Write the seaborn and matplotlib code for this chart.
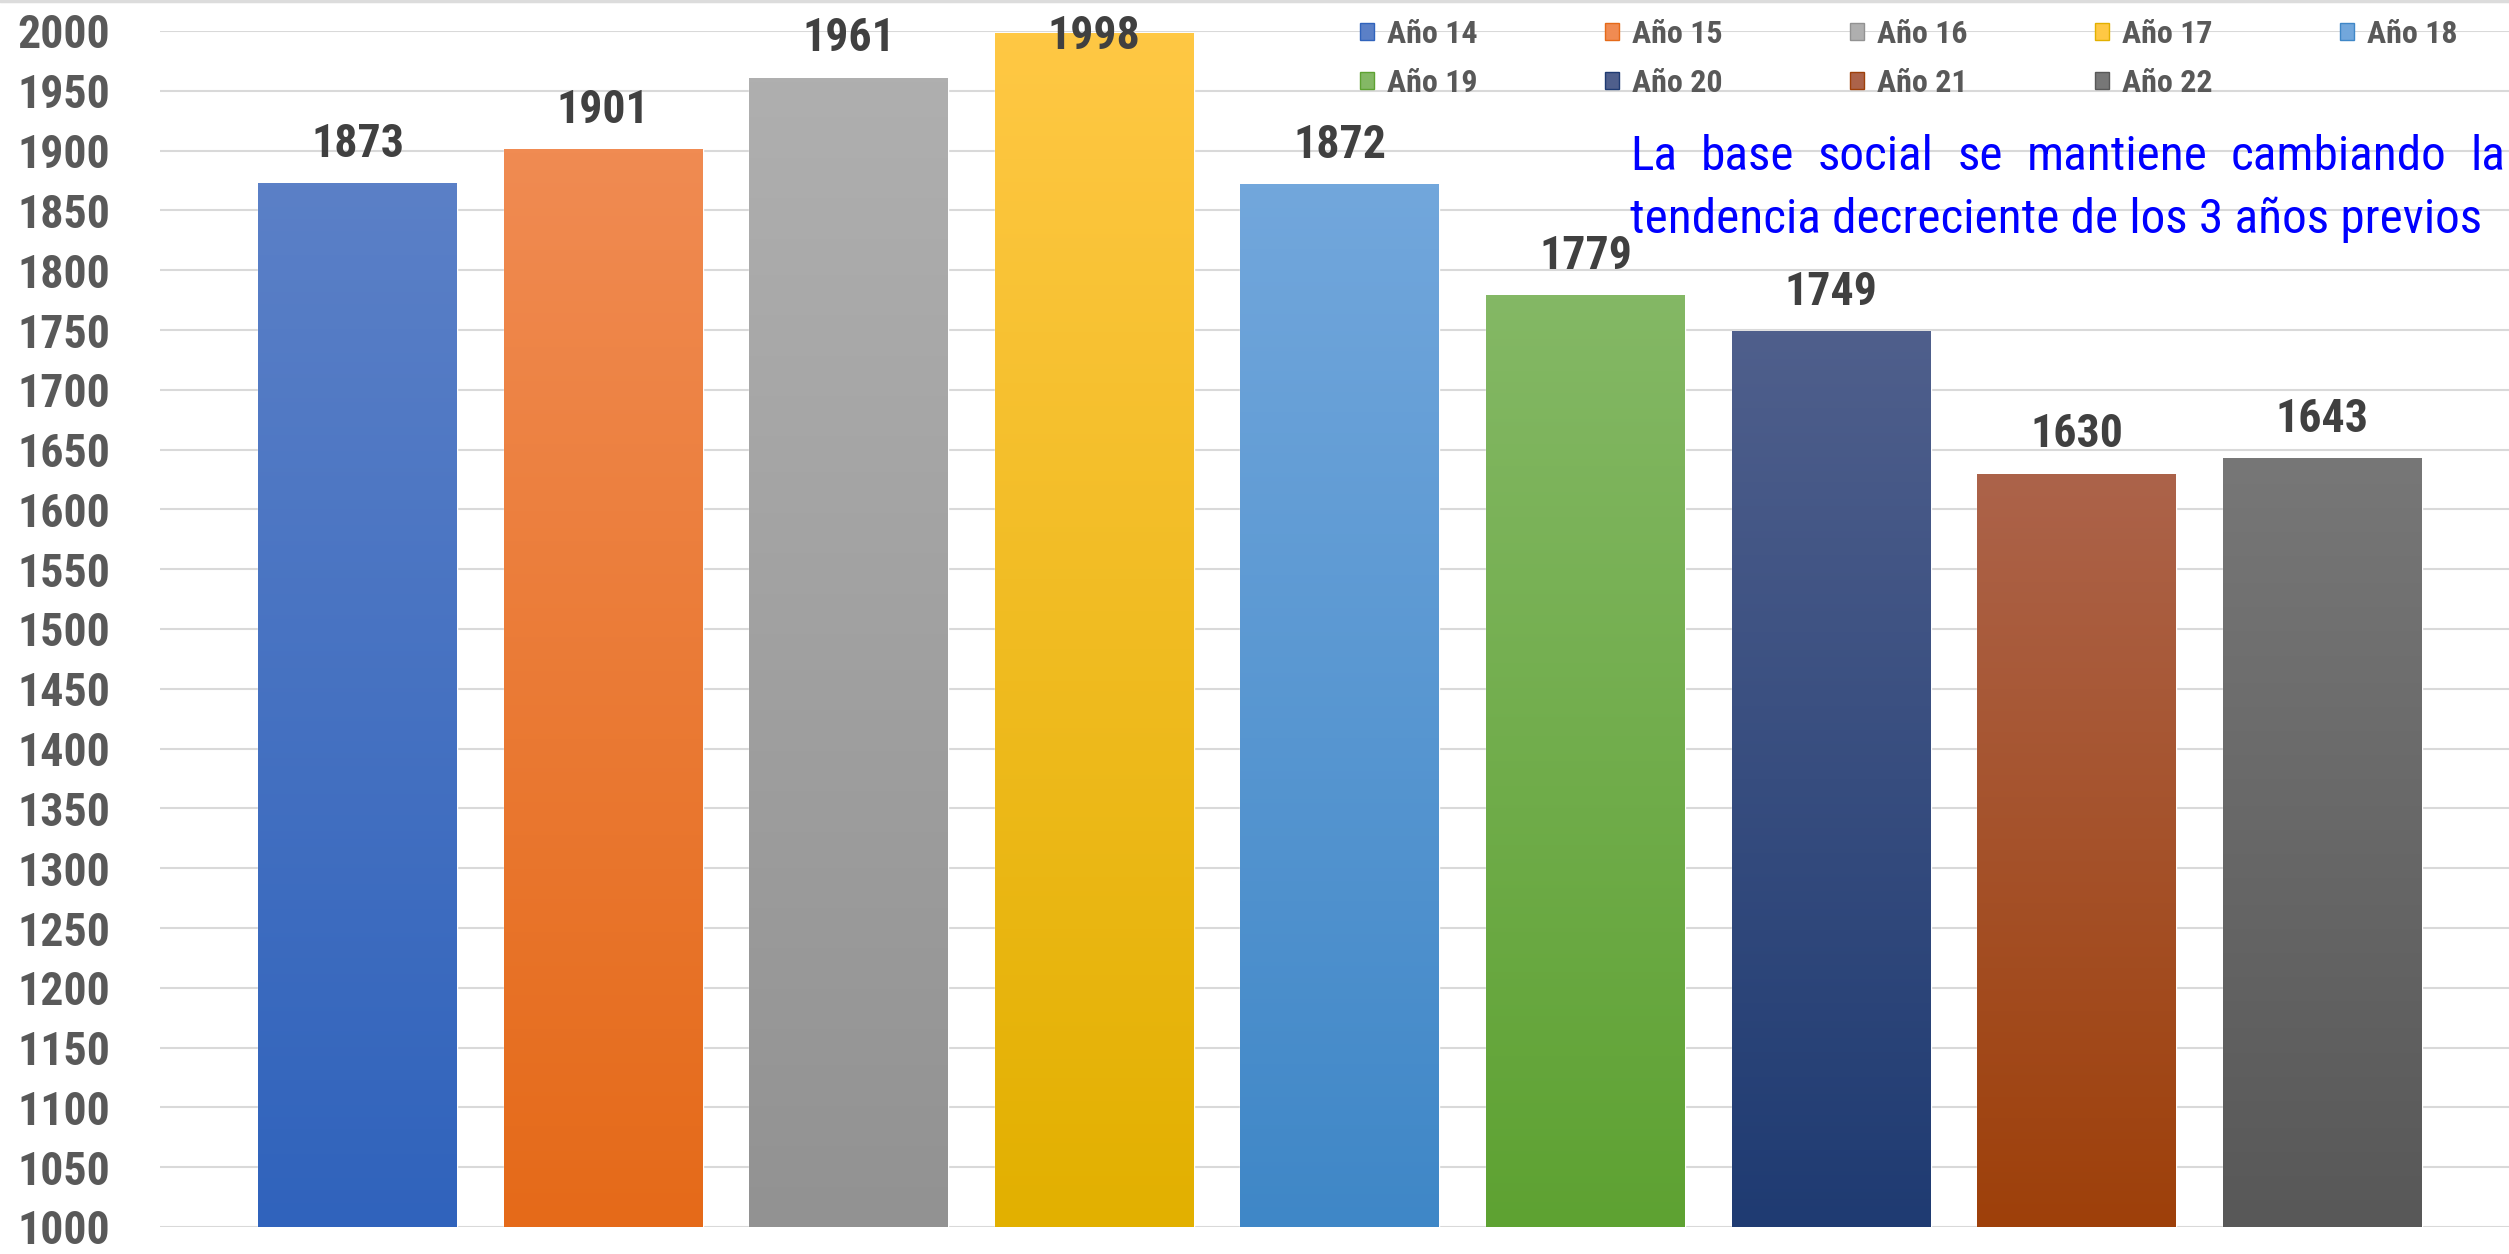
import matplotlib
matplotlib.use("Agg")
import matplotlib.pyplot as plt
import matplotlib.font_manager as fm
from matplotlib.colors import LinearSegmentedColormap
from matplotlib.patches import Patch
from matplotlib.lines import Line2D
import numpy as np
import pandas as pd
import seaborn as sns

years = ["Año 14", "Año 15", "Año 16", "Año 17", "Año 18", "Año 19", "Año 20", "Año 21", "Año 22"]
socios = [1873, 1901, 1961, 1998, 1872, 1779, 1749, 1630, 1643]
top_colors = ["#5b80c7", "#f08b52", "#afafaf", "#ffc844", "#72a7dc", "#84b865", "#4f5f8c", "#ac634a", "#777777"]
bottom_colors = ["#3063bc", "#e56a19", "#929292", "#e2b000", "#3f87c7", "#5ea232", "#1f3b72", "#9e400a", "#585858"]
note_line1 = "La base social se mantiene cambiando la"
note_line2 = "tendencia decreciente de los 3 años previos"

# look for a narrow font (Arial Narrow style)
entries = fm.fontManager.ttflist
FAM, STRETCH = "Liberation Sans", "normal"
for pref in ["Liberation Sans Narrow", "Arial Narrow", "Roboto Condensed", "Open Sans Condensed"]:
    if any(e.name == pref for e in entries):
        FAM, STRETCH = pref, "normal"
        break
else:
    for fam in ["Noto Sans", "Open Sans", "DejaVu Sans", "Roboto", "Inter", "Lato"]:
        if any(e.name == fam and e.stretch == "condensed" for e in entries):
            FAM, STRETCH = fam, "condensed"
            break

sns.set_style("white")
plt.rcParams["font.family"] = [FAM, "DejaVu Sans"]
plt.rcParams["font.stretch"] = STRETCH

df = pd.DataFrame({"year": years, "socios": socios})
mid = {y: c for y, c in zip(years, top_colors)}

W, H = 2509, 1254
fig = plt.figure(figsize=(W / 100, H / 100), dpi=100)
renderer = fig.canvas.get_renderer()


def text_w(s, size, weight="normal"):
    t = fig.text(0, 0, s, fontsize=size, fontweight=weight)
    bb = t.get_window_extent(renderer)
    t.remove()
    return bb.width


def fit(s, size, target, weight="normal", lo=0.8):
    r = target / text_w(s, size, weight)
    return size * min(1.0, max(lo, r))


tick_fs = fit("2000", 36, 93, "bold")
lab_fs = fit("1873", 36, 93, "bold")
leg_fs = fit("Año 14", 23, 99, "bold")
note_fs = fit(note_line2, 38.4, 853, "normal", lo=0.5)

ax = fig.add_axes([160 / W, 1 - 1227 / H, 1 - 160 / W, (1227 - 31) / H])

sns.barplot(data=df, x="year", y="socios", hue="year", palette=mid, dodge=False,
            width=0.81, legend=False, ax=ax, zorder=2)

ax.set_ylim(1000, 2000)
ax.set_xlim(-0.804, 8.76)
ax.set_yticks(range(1000, 2001, 50))
ax.set_xticks([])
ax.set_xlabel("")
ax.set_ylabel("")
ax.yaxis.grid(True, color="#d9d9d9", lw=1.5, zorder=0)
ax.set_axisbelow(True)
for s in ax.spines.values():
    s.set_visible(False)
ax.tick_params(axis="y", length=0, pad=36, labelsize=tick_fs, labelcolor="#595959")
for t in ax.get_yticklabels():
    t.set_fontweight("bold")

# gradient fill per bar + value labels
for i, cont in enumerate(ax.containers):
    for p in cont.patches:
        x0, w, top = p.get_x(), p.get_width(), p.get_y() + p.get_height()
        cmap = LinearSegmentedColormap.from_list("g", [bottom_colors[i], top_colors[i]])
        im = ax.imshow(np.linspace(0, 1, 256).reshape(-1, 1), cmap=cmap, aspect="auto",
                       origin="lower", extent=(x0, x0 + w, 1000, top), zorder=3)
        im.set_clip_path(p)
    pad = -18 if socios[i] > 1990 else 12.5  # no room above the tallest bar
    ax.bar_label(cont, fmt="%d", padding=pad, fontsize=lab_fs, fontweight="bold",
                 color="#404040", zorder=5)

ax.set_xlim(-0.804, 8.76)
ax.set_ylim(1000, 2000)

# legend in 5 columns, filled row by row
order = [0, 5, 1, 6, 2, 7, 3, 8, 4]
handles = [Patch(facecolor=top_colors[k], edgecolor=bottom_colors[k]) for k in order]
labels = [years[k] for k in order]
fs_px = leg_fs * 100 / 72
col_sp = (245 - 0.85 * fs_px - text_w("Año 14", leg_fs, "bold")) / fs_px
leg = fig.legend(handles, labels, ncol=5, loc="upper left",
                 bbox_to_anchor=(1360 / W, 1 - 19 / H), frameon=False,
                 prop={"family": [FAM, "DejaVu Sans"], "stretch": STRETCH, "weight": "bold", "size": leg_fs},
                 handlelength=0.45, handleheight=0.45, handletextpad=0.4,
                 columnspacing=col_sp, labelspacing=0.6, borderpad=0, borderaxespad=0)
for t in leg.get_texts():
    t.set_color("#595959")

# justified note
note_kw = dict(fontsize=note_fs, color="#0000ff", va="baseline", ha="left")
words = note_line1.split()
widths = [text_w(w, note_fs) for w in words]
x_left, x_right = 1630, 2505
gap = max(text_w("a a", note_fs) - text_w("aa", note_fs),
          (x_right - x_left - sum(widths)) / (len(words) - 1))
x = x_left
for w, wd in zip(words, widths):
    fig.text(x / W, 1 - 170 / H, w, **note_kw)
    x += wd + gap
fig.text(x_left / W, 1 - 233 / H, note_line2, **note_kw)

fig.add_artist(Line2D([0, 1], [1 - 1 / H, 1 - 1 / H], transform=fig.transFigure,
                      color="#dcdcdc", lw=2.5))

fig.savefig("out.png", dpi=100)
